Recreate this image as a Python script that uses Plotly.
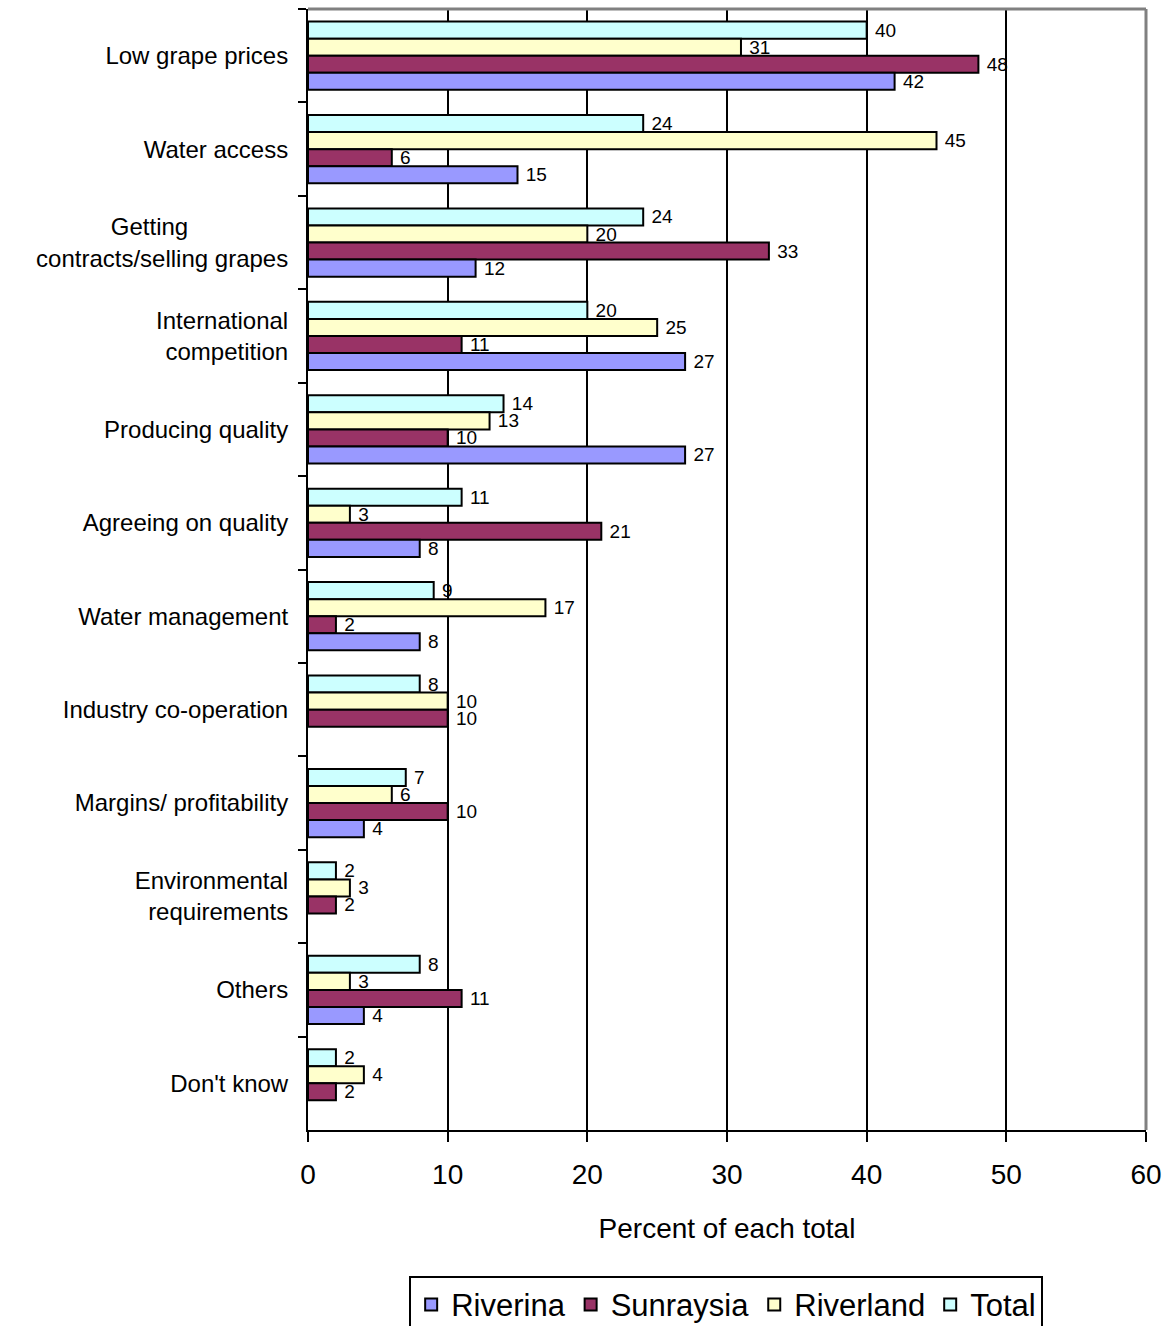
import plotly.graph_objects as go

categories = [
    "Low grape prices",
    "Water access",
    "Getting" + "\u00a0" * 15 + "<br>contracts/selling grapes",
    "International<br>competition",
    "Producing quality",
    "Agreeing on quality",
    "Water management",
    "Industry co-operation",
    "Margins/ profitability",
    "Environmental<br>requirements",
    "Others",
    "Don't know",
]

riverina = [42, 15, 12, 27, 27, 8, 8, None, 4, None, 4, None]
sunraysia = [48, 6, 33, 11, 10, 21, 2, 10, 10, 2, 11, 2]
riverland = [31, 45, 20, 25, 13, 3, 17, 10, 6, 3, 3, 4]
total = [40, 24, 24, 20, 14, 11, 9, 8, 7, 2, 8, 2]

x_ticks = [0, 10, 20, 30, 40, 50, 60]

series = [
    ("Total", total, "#CCFFFF", 4),
    ("Riverland", riverland, "#FFFFCC", 3),
    ("Sunraysia", sunraysia, "#993366", 2),
    ("Riverina", riverina, "#9999FF", 1),
]

FONT = "Arial, 'Liberation Sans', sans-serif"

fig = go.Figure()
for name, vals, color, rank in series:
    fig.add_trace(go.Bar(
        name=name,
        y=categories,
        x=vals,
        orientation="h",
        marker=dict(color=color, line=dict(color="black", width=2)),
        text=[("" if v is None else "\u00a0" + str(v)) for v in vals],
        textposition="outside",
        constraintext="none",
        textfont=dict(size=19, color="black", family=FONT),
        cliponaxis=False,
        legendrank=rank,
    ))

fig.update_layout(
    width=1173,
    height=1326,
    margin=dict(l=308, r=27, t=9, b=196, autoexpand=False),
    paper_bgcolor="white",
    plot_bgcolor="white",
    barmode="group",
    bargap=0.27,
    bargroupgap=0,
    font=dict(family=FONT, color="black"),
    showlegend=True,
    legend=dict(
        orientation="h",
        x=0.499,
        xanchor="center",
        y=-0.130,
        yanchor="top",
        font=dict(size=31, family=FONT),
        bgcolor="white",
        bordercolor="black",
        borderwidth=2,
        itemclick=False,
        traceorder="normal",
    ),
    xaxis=dict(
        range=[0, 60],
        tickvals=x_ticks,
        ticktext=[str(t) for t in x_ticks],
        showgrid=True,
        gridcolor="black",
        gridwidth=2,
        zeroline=False,
        showline=True,
        linecolor="black",
        linewidth=2,
        ticks="outside",
        ticklen=10,
        tickwidth=2,
        tickcolor="black",
        tickfont=dict(size=28, family=FONT),
        ticklabelstandoff=8,
        title=dict(text="Percent of each total", font=dict(size=28, family=FONT), standoff=30),
        fixedrange=True,
    ),
    yaxis=dict(
        autorange="reversed",
        showline=True,
        linecolor="black",
        linewidth=2,
        ticks="outside",
        tickson="boundaries",
        ticklen=8,
        tickwidth=2,
        tickcolor="black",
        showgrid=False,
        tickfont=dict(size=24, family=FONT),
        ticklabelstandoff=13,
        fixedrange=True,
    ),
    shapes=[
        dict(type="line", xref="paper", yref="paper", x0=0, x1=1, y0=1, y1=1,
             line=dict(color="#808080", width=3), layer="above"),
        dict(type="line", xref="paper", yref="paper", x0=1, x1=1, y0=0, y1=1,
             line=dict(color="#808080", width=3), layer="above"),
    ],
)

fig.write_html("out.html")
